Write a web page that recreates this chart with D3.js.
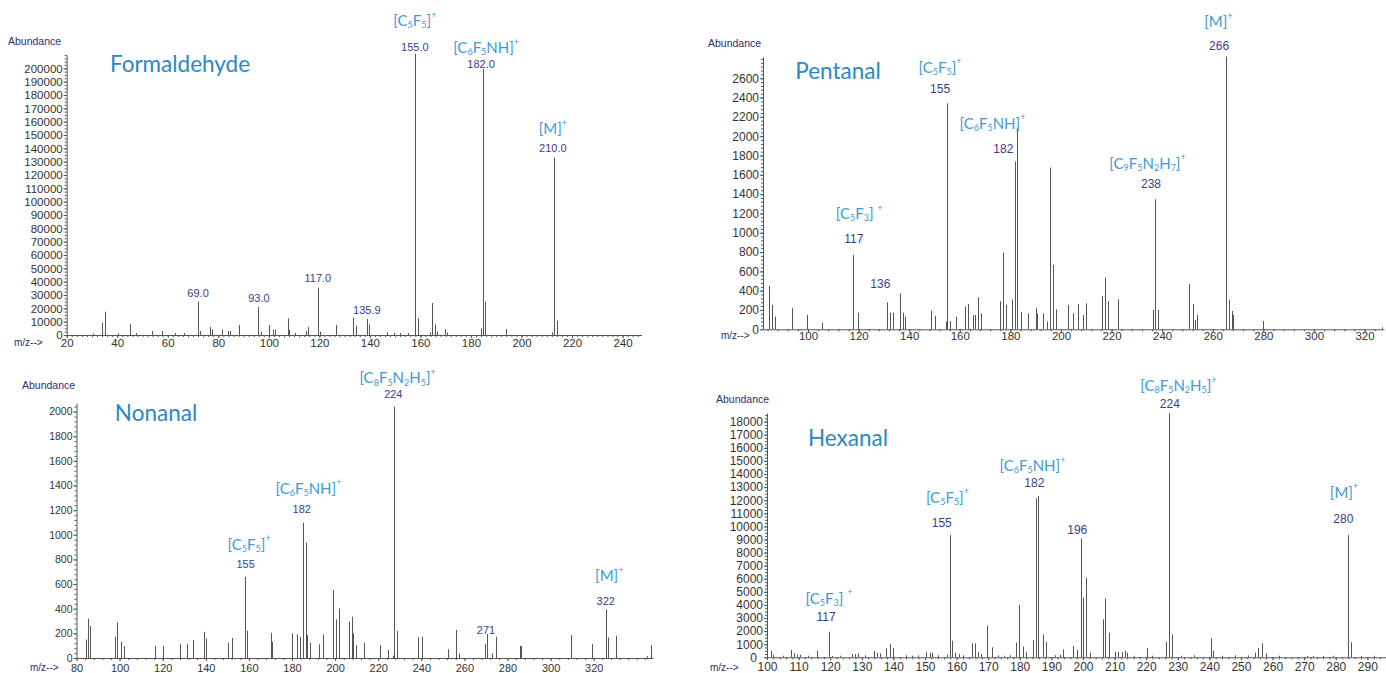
<!DOCTYPE html>
<html>
<head>
<meta charset="utf-8">
<script src="https://cdn.jsdelivr.net/npm/d3@7"></script>
<style>
  body { margin: 0; background: #fff; }
  svg { display: block; }
</style>
</head>
<body>
<div id="chart"></div>
<script>
// ---------- Formaldehyde (top left) ----------
const formMz = [30.5, 34.0, 35.2, 40.3, 45.0, 47.5, 53.6, 57.6, 63.0, 66.5, 71.8, 72.7, 76.8, 77.5, 81.6, 84.0, 84.6, 88.3,
  95.6, 96.9, 100.2, 101.5, 102.4, 107.7, 108.1, 110.5, 114.7, 115.6, 119.6, 120.4, 126.6, 133.4, 134.6, 138.7, 139.8,
  146.6, 149.5, 152.0, 155.0, 157.8, 158.9, 163.9, 164.6, 165.6, 166.4, 169.8, 170.7, 183.9, 184.6, 185.5, 193.9,
  212.2, 212.7, 213.9]
const formAbund = [1000, 9200, 17500, 1200, 8300, 1500, 3000, 3000, 1500, 1500, 25000, 3000, 6000, 4000, 4000, 3000, 3000, 7500,
  21000, 2500, 7500, 4000, 4000, 12500, 4000, 1500, 3000, 6000, 35500, 2500, 7500, 13000, 7000, 12000, 8000,
  2000, 1500, 1500, 1500, 211000, 12500, 2000, 24000, 8000, 2500, 4500, 2000, 5000, 199500, 25000, 4500,
  2000, 133000, 10700]
const formXTicks = [20, 40, 60, 80, 100, 120, 140, 160, 180, 200, 220, 240]
const formYTicks = [0, 10000, 20000, 30000, 40000, 50000, 60000, 70000, 80000, 90000, 100000, 110000, 120000,
  130000, 140000, 150000, 160000, 170000, 180000, 190000, 200000]
const formNumText = ['69.0', '93.0', '117.0', '135.9', '155.0', '182.0', '210.0']
const formNumMz = [72.0, 96.1, 119.4, 138.8, 157.8, 184.0, 212.4]
const formNumAt = [31500, 27750, 42750, 18750, 216000, 203250, 140500]
const formIonText = ['[C_5F_5]^+', '[C_6F_5NH]^+', '[M]^+']
const formIonMz = [157.8, 186.0, 212.4]
const formIonAt = [236250, 216000, 155250]

// ---------- Pentanal (top right) ----------
const pentMz = [84.7, 85.9, 87.0, 93.6, 99.5, 105.7, 117.7, 119.9, 131.3, 132.4, 133.5, 136.4, 137.4, 138.3, 148.5, 150.2,
  154.4, 154.9, 156.1, 158.4, 162.1, 163.1, 165.3, 166.0, 167.1, 168.3, 175.9, 177.0, 178.1, 180.7, 181.8, 182.7,
  184.1, 186.8, 190.0, 190.6, 193.0, 194.5, 195.7, 196.7, 197.9, 202.8, 204.9, 206.6, 208.6, 209.8, 216.3, 217.4,
  218.7, 222.4, 236.2, 237.3, 238.3, 250.5, 252.0, 253.1, 253.8, 265.1, 266.4, 267.5, 268.0, 280.0, 326.9]
const pentAbund = [449, 252, 130, 218, 148, 68, 770, 172, 280, 172, 172, 373, 172, 130, 193, 138,
  78, 2340, 85, 130, 234, 262, 148, 148, 331, 165, 290, 794, 252, 310, 1737, 2090,
  180, 165, 218, 165, 165, 80, 1675, 666, 207, 252, 165, 262, 148, 269, 345, 535,
  293, 311, 200, 1347, 200, 469, 262, 96, 148, 2825, 304, 190, 148, 86, 20]
const pentXTicks = [100, 120, 140, 160, 180, 200, 220, 240, 260, 280, 300, 320]
const pentYTicks = [0, 200, 400, 600, 800, 1000, 1200, 1400, 1600, 1800, 2000, 2200, 2400, 2600]
const pentNumText = ['117', '136', '155', '182', '238', '266']
const pentNumMz = [118.1, 128.6, 152.2, 177.2, 235.6, 262.5]
const pentNumAt = [936, 469, 2487, 1868, 1506, 2936]
const pentIonText = ['[C_5F_3] ^+', '[C_5F_5]^+', '[C_6F_5NH]^+', '[C_9F_5N_2H_7]^+', '[M]^+']
const pentIonMz = [120.2, 152.2, 172.9, 234.2, 262.2]
const pentIonAt = [1205, 2721, 2141, 1726, 3188]

// ---------- Nonanal (bottom left) ----------
const nonMz = [84.4, 85.2, 86.3, 97.9, 98.9, 100.5, 102.2, 116.3, 120.0, 128.0, 131.1, 134.2, 139.2, 140.2, 150.2, 152.0,
  158.2, 159.3, 170.3, 170.9, 180.1, 182.2, 183.7, 185.0, 186.4, 187.1, 188.4, 192.5, 194.2, 199.2, 200.4, 201.8,
  206.6, 207.7, 208.4, 209.6, 213.4, 220.8, 224.4, 226.7, 227.5, 228.7, 238.3, 240.2, 252.5, 256.2, 257.4, 269.6,
  270.4, 272.7, 274.7, 285.8, 286.3, 309.5, 319.4, 325.6, 326.8, 330.5, 344.6, 346.5]
const nonAbund = [150, 320, 260, 172, 289, 132, 97, 97, 97, 113, 113, 146, 213, 159, 124, 162,
  658, 221, 205, 132, 200, 192, 172, 1099, 937, 186, 124, 111, 192, 551, 313, 402,
  294, 335, 200, 105, 124, 105, 65, 19, 2040, 219, 167, 173, 70, 227, 38, 113,
  194, 38, 173, 97, 97, 186, 113, 394, 167, 181, 15, 105]
const nonXTicks = [80, 100, 120, 140, 160, 180, 200, 220, 240, 260, 280, 300, 320]
const nonYTicks = [0, 200, 400, 600, 800, 1000, 1200, 1400, 1600, 1800, 2000]
const nonNumText = ['155', '182', '224', '271', '322']
const nonNumMz = [158.5, 184.5, 227.0, 270.0, 325.6]
const nonNumAt = [767, 1212, 2143, 227, 462]
const nonIonText = ['[C_5F_5]^+', '[C_6F_5NH]^+', '[C_8F_5N_2H_5]^+', '[M]^+']
const nonIonMz = [160.1, 187.6, 229.0, 327.2]
const nonIonAt = [929, 1382, 2278, 672]

// ---------- Hexanal (bottom right) ----------
const hexMz = [101.2, 101.8, 105.0, 107.5, 108.6, 109.4, 110.4, 113.0, 115.7, 119.7, 120.5, 123.0, 126.8, 127.8, 128.9, 131.0,
  133.9, 134.7, 135.8, 137.7, 138.9, 139.8, 144.0, 146.0, 147.9, 150.3, 151.6, 152.3, 154.0, 156.9, 157.9, 158.6,
  159.5, 160.8, 162.0, 164.8, 165.8, 166.9, 167.7, 169.7, 171.1, 173.0, 175.0, 177.0, 178.8, 179.8, 180.9, 182.0,
  184.1, 185.1, 185.9, 187.2, 188.2, 191.0, 192.7, 193.8, 196.9, 198.2, 199.3, 200.1, 200.9, 202.2, 206.2, 207.1,
  208.3, 210.1, 211.0, 212.3, 213.3, 214.0, 216.0, 220.2, 222.0, 226.3, 227.3, 228.2, 231.0, 235.0, 240.4, 241.2,
  244.0, 248.0, 252.3, 254.4, 255.5, 256.7, 257.8, 262.0, 270.8, 272.9, 276.0, 279.0, 283.8, 284.7, 288.0, 292.0]
const hexAbund = [510, 200, 120, 560, 305, 200, 200, 120, 500, 1960, 100, 120, 250, 250, 300, 150,
  500, 350, 300, 690, 1020, 690, 150, 120, 150, 400, 350, 350, 150, 200, 9340, 1270,
  350, 250, 150, 1070, 1070, 400, 250, 2420, 760, 150, 120, 150, 1120, 4000, 810, 400,
  1320, 12150, 12320, 1760, 1190, 150, 200, 610, 860, 560, 9090, 4550, 6080, 350, 2900, 4500,
  1880, 400, 400, 400, 500, 350, 120, 690, 120, 1190, 18640, 1760, 120, 150, 1450, 500,
  120, 150, 150, 350, 690, 1070, 300, 120, 100, 100, 100, 120, 9340, 1150, 100, 120]
const hexXTicks = [100, 110, 120, 130, 140, 150, 160, 170, 180, 190, 200, 210, 220, 230, 240, 250, 260, 270, 280, 290]
const hexYTicks = [0, 1000, 2000, 3000, 4000, 5000, 6000, 7000, 8000, 9000, 10000, 11000, 12000, 13000, 14000,
  15000, 16000, 17000, 18000]
const hexNumText = ['117', '155', '182', '196', '224', '280']
const hexNumMz = [118.7, 155.3, 184.6, 198.2, 227.5, 282.4]
const hexNumAt = [3056, 10237, 13338, 9725, 19351, 10542]
const hexIonText = ['[C_5F_3] ^+', '[C_5F_5]^+', '[C_6F_5NH]^+', '[C_8F_5N_2H_5]^+', '[M]^+']
const hexIonMz = [119.6, 157.1, 184.0, 230.2, 282.6]
const hexIonAt = [4553, 12269, 14691, 20802, 12651]

const panels = [
  {
    title: 'Formaldehyde', mz: formMz, abund: formAbund, xTicks: formXTicks, yTicks: formYTicks,
    nums: d3.zip(formNumText, formNumMz, formNumAt), ions: d3.zip(formIonText, formIonMz, formIonAt),
    xDomain: [20, 247.5], yDomain: [0, 210000],
    left: 66.7, right: 641.5, bottom: 335, top: 55, xMinor: 2, yMinor: 2500,
    titlePos: [180, 63], abundPos: [8, 41], mzPos: [14, 342],
    yFont: 11.5, xFont: 11.5, numFont: 11, xPad: 1, zeroDx: 0
  },
  {
    title: 'Pentanal', mz: pentMz, abund: pentAbund, xTicks: pentXTicks, yTicks: pentYTicks,
    nums: d3.zip(pentNumText, pentNumMz, pentNumAt), ions: d3.zip(pentIonText, pentIonMz, pentIonAt),
    xDomain: [82.2, 327.7], yDomain: [0, 2820],
    left: 763, right: 1384, bottom: 329.3, top: 57, xMinor: 4, yMinor: 40,
    titlePos: [838, 70], abundPos: [708, 43], mzPos: [721, 335],
    yFont: 12, xFont: 11.5, numFont: 12, xPad: 0, zeroDx: 0
  },
  {
    title: 'Nonanal', mz: nonMz, abund: nonAbund, xTicks: nonXTicks, yTicks: nonYTicks,
    nums: d3.zip(nonNumText, nonNumMz, nonNumAt), ions: d3.zip(nonIonText, nonIonMz, nonIonAt),
    xDomain: [80, 347.5], yDomain: [0, 2070],
    left: 76.5, right: 653, bottom: 658, top: 403, xMinor: 4, yMinor: 40,
    titlePos: [156, 412], abundPos: [22, 385], mzPos: [30, 667],
    yFont: 10.5, xFont: 11, numFont: 11, xPad: 3, zeroDx: 0
  },
  {
    title: 'Hexanal', mz: hexMz, abund: hexAbund, xTicks: hexXTicks, yTicks: hexYTicks,
    nums: d3.zip(hexNumText, hexNumMz, hexNumAt), ions: d3.zip(hexIonText, hexIonMz, hexIonAt),
    xDomain: [100, 295.9], yDomain: [0, 18660],
    left: 767, right: 1386, bottom: 657.3, top: 413, xMinor: 2, yMinor: 250,
    titlePos: [848, 437], abundPos: [716, 399], mzPos: [710, 667],
    yFont: 12, xFont: 12, numFont: 12, xPad: 2, zeroDx: -6
  }
]

const svg = d3.select('#chart')
  .append('svg')
  .attr('width', 1386)
  .attr('height', 673)

// "[C_5F_5]^+" -> tspans with sub / superscripts
function richText(sel, markup, size) {
  const segs = []
  let i = 0
  while (i < markup.length) {
    let type = 'n'
    let ch = markup[i]
    if (ch === '_' || ch === '^') {
      type = ch === '_' ? 'sub' : 'sup'
      ch = markup[i + 1]
      i += 2
    } else {
      i += 1
    }
    const last = segs[segs.length - 1]
    if (last && last.type === type) last.text += ch
    else segs.push({ type, text: ch })
  }
  let cur = 0
  segs.forEach(s => {
    const target = s.type === 'sub' ? size * 0.28 : s.type === 'sup' ? -size * 0.42 : 0
    sel.append('tspan')
      .attr('dy', target - cur)
      .attr('font-size', s.type === 'n' ? size : size * 0.6)
      .text(s.text)
    cur = target
  })
}

function minorValues(domain, step) {
  const vals = []
  for (let v = Math.ceil(domain[0] / step) * step; v <= domain[1]; v += step) vals.push(v)
  return vals
}

function drawPanel(p) {
  const x = d3.scaleLinear().domain(p.xDomain).range([p.left, p.right])
  const y = d3.scaleLinear().domain(p.yDomain).range([p.bottom, p.top])
  const g = svg.append('g')

  // minor ticks
  g.append('g')
    .attr('class', 'minor')
    .attr('transform', 'translate(0,' + p.bottom + ')')
    .call(d3.axisBottom(x).tickValues(minorValues(p.xDomain, p.xMinor)).tickSize(2).tickFormat(''))
  g.append('g')
    .attr('class', 'minor')
    .attr('transform', 'translate(' + p.left + ',0)')
    .call(d3.axisLeft(y).tickValues(minorValues(p.yDomain, p.yMinor)).tickSize(2).tickFormat(''))
  g.selectAll('.minor .domain').remove()

  const xAxis = g.append('g')
    .attr('transform', 'translate(0,' + p.bottom + ')')
    .call(d3.axisBottom(x).tickValues(p.xTicks).tickSize(3).tickSizeOuter(0).tickPadding(p.xPad).tickFormat(d3.format('d')))
  xAxis.selectAll('text').attr('font-size', p.xFont)

  const yAxis = g.append('g')
    .attr('transform', 'translate(' + p.left + ',0)')
    .call(d3.axisLeft(y).tickValues(p.yTicks).tickSize(3).tickSizeOuter(0).tickPadding(1).tickFormat(d3.format('d')))
  yAxis.selectAll('text').attr('font-size', p.yFont)
  // keep the zero label clear of the first m/z label
  yAxis.selectAll('.tick text').filter(d => d === 0).attr('dx', p.zeroDx)

  g.selectAll('.tick line, .domain').attr('stroke', '#555')
  g.selectAll('.tick text').attr('fill', '#333').attr('font-family', 'Liberation Sans, Arial, sans-serif')

  // spectrum sticks
  g.selectAll('line.peak')
    .data(d3.zip(p.mz, p.abund))
    .join('line')
    .attr('class', 'peak')
    .attr('x1', d => Math.round(x(d[0])) + 0.5)
    .attr('x2', d => Math.round(x(d[0])) + 0.5)
    .attr('y1', y(0))
    .attr('y2', d => y(d[1]))
    .attr('stroke', '#555')
    .attr('stroke-width', 1)

  // m/z value labels
  g.selectAll('text.num')
    .data(p.nums)
    .join('text')
    .attr('class', 'num')
    .attr('x', d => x(d[1]))
    .attr('y', d => y(d[2]))
    .attr('text-anchor', 'middle')
    .attr('dominant-baseline', 'central')
    .attr('font-family', 'Liberation Sans, Arial, sans-serif')
    .attr('font-size', p.numFont)
    .attr('fill', '#3c3c8e')
    .text(d => d[0])

  // ion formula labels
  p.ions.forEach(d => {
    const t = g.append('text')
      .attr('x', x(d[1]))
      .attr('y', y(d[2]))
      .attr('text-anchor', 'middle')
      .attr('dominant-baseline', 'central')
      .attr('font-family', 'Lato, Open Sans, sans-serif')
      .attr('fill', '#3d9ad6')
    richText(t, d[0], 15)
  })

  g.append('text')
    .text(p.title)
    .attr('x', p.titlePos[0])
    .attr('y', p.titlePos[1])
    .attr('text-anchor', 'middle')
    .attr('dominant-baseline', 'central')
    .attr('font-family', 'Lato, Open Sans, sans-serif')
    .attr('font-size', 22.5)
    .attr('fill', '#2b88c6')

  g.append('text')
    .text('Abundance')
    .attr('x', p.abundPos[0])
    .attr('y', p.abundPos[1])
    .attr('dominant-baseline', 'central')
    .attr('font-family', 'Liberation Sans, Arial, sans-serif')
    .attr('font-size', 10.5)
    .attr('fill', '#2e2e6e')

  g.append('text')
    .text('m/z-->')
    .attr('x', p.mzPos[0])
    .attr('y', p.mzPos[1])
    .attr('dominant-baseline', 'central')
    .attr('font-family', 'Liberation Sans, Arial, sans-serif')
    .attr('font-size', 10)
    .attr('fill', '#2e2e6e')
}

panels.forEach(drawPanel)
</script>
</body>
</html>
